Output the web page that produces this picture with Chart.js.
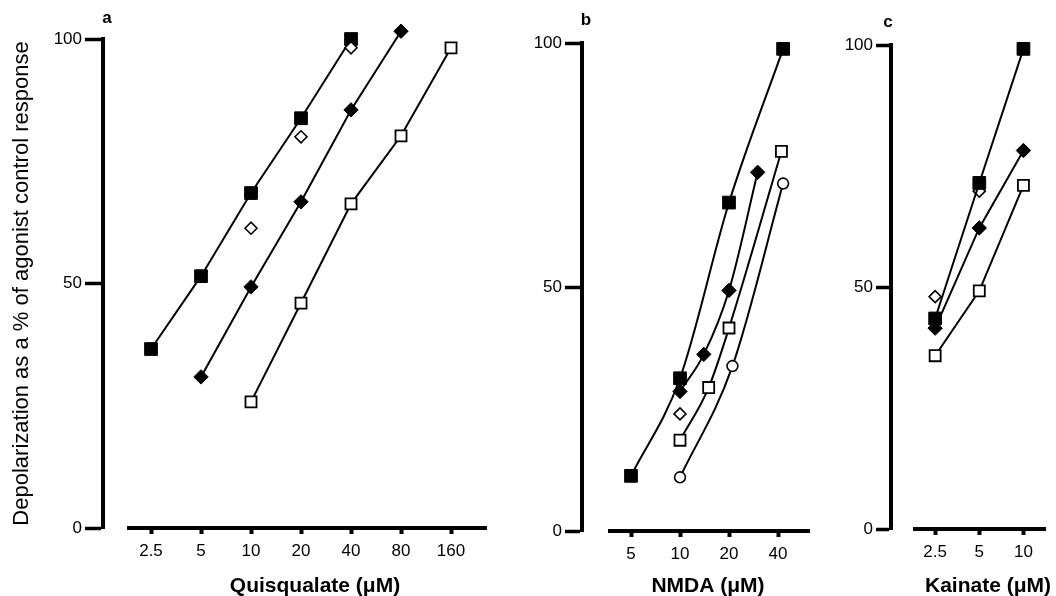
<!DOCTYPE html>
<html>
<head>
<meta charset="utf-8">
<script src="https://cdn.jsdelivr.net/npm/chart.js@4.4.0/dist/chart.umd.min.js"></script>
<style>
  html, body { margin: 0; padding: 0; background: #fff; }
  #wrap { position: relative; width: 1056px; height: 596px; }
  #wrap canvas { position: absolute; left: 0; top: 0; }
</style>
</head>
<body>
<div id="wrap">
  <canvas id="chartA" width="1056" height="596"></canvas>
  <canvas id="chartB" width="1056" height="596"></canvas>
  <canvas id="chartC" width="1056" height="596"></canvas>
</div>
<script>
// panel a - quisqualate (uM)
const quisTicks = [2.5, 5, 10, 20, 40, 80, 160];
const aFilledSquareX = [2.5, 5, 10, 20, 40];
const aFilledSquareY = [36.6, 51.5, 68.5, 83.8, 100];
const aOpenDiamondX = [10, 20, 40];
const aOpenDiamondY = [61.3, 80, 98.2];
const aFilledDiamondX = [5, 10, 20, 40, 80];
const aFilledDiamondY = [30.9, 49.3, 66.7, 85.5, 101.6];
const aOpenSquareX = [10, 20, 40, 80, 160];
const aOpenSquareY = [25.8, 46, 66.3, 80.2, 98.2];

// panel b - NMDA (uM)
const nmdaTicks = [5, 10, 20, 40];
const bFilledSquareX = [5, 10, 20, 43];
const bFilledSquareY = [11.3, 31.3, 67.3, 98.8];
const bOpenDiamondX = [10];
const bOpenDiamondY = [24];
const bFilledDiamondX = [10, 14, 20, 30];
const bFilledDiamondY = [28.6, 36.2, 49.3, 73.5];
const bOpenSquareX = [10, 15, 20, 42];
const bOpenSquareY = [18.6, 29.4, 41.6, 77.8];
const bOpenCircleX = [10, 21, 43];
const bOpenCircleY = [11, 33.8, 71.2];

// panel c - kainate (uM)
const kainTicks = [2.5, 5, 10];
const cFilledSquareX = [2.5, 5, 10];
const cFilledSquareY = [43.5, 71.5, 99.2];
const cOpenDiamondX = [2.5, 5];
const cOpenDiamondY = [48, 69.8];
const cFilledDiamondX = [2.5, 5, 10];
const cFilledDiamondY = [41.5, 62.2, 78.2];
const cOpenSquareX = [2.5, 5, 10];
const cOpenSquareY = [35.8, 49.2, 71];

Chart.defaults.font.family = '"Liberation Sans", Arial, Helvetica, sans-serif';
Chart.defaults.color = "#000";

const filledSquare = { pointStyle: "rect", pointRadius: 9, pointBackgroundColor: "#000", pointBorderWidth: 1 };
const openSquare = { pointStyle: "rect", pointRadius: 7.8, pointBackgroundColor: "#fff", pointBorderWidth: 1.8 };
const filledDiamond = { pointStyle: "rectRot", pointRadius: 7.2, pointBackgroundColor: "#000", pointBorderWidth: 1 };
const openDiamond = { pointStyle: "rectRot", pointRadius: 6, pointBackgroundColor: "#fff", pointBorderWidth: 1.6 };
const openCircle = { pointStyle: "circle", pointRadius: 5.4, pointBackgroundColor: "#fff", pointBorderWidth: 1.6 };

function series(xs, ys, marker, joined, curved) {
  return Object.assign({
    data: xs.map((x, i) => ({ x: x, y: ys[i] })),
    showLine: joined,
    borderColor: "#000",
    borderWidth: 2,
    pointBorderColor: "#000",
    cubicInterpolationMode: curved ? "monotone" : "default",
    tension: 0,
    clip: false,
  }, marker);
}

// draws the detached x baseline, axis title and panel letter
const panelDecor = {
  id: "panelDecor",
  afterDraw(chart, args, opts) {
    const ctx = chart.ctx;
    const area = chart.chartArea;
    ctx.save();
    ctx.strokeStyle = "#000";
    ctx.lineWidth = 4;
    ctx.beginPath();
    ctx.moveTo(area.left + opts.gap, area.bottom);
    ctx.lineTo(area.right, area.bottom);
    ctx.stroke();

    ctx.fillStyle = "#000";
    ctx.textAlign = "center";
    ctx.textBaseline = "middle";
    ctx.font = 'bold 21px "Liberation Sans", Arial, sans-serif';
    ctx.fillText(opts.title, opts.titleX, 586);
    ctx.font = 'bold 17px "Liberation Sans", Arial, sans-serif';
    ctx.fillText(opts.letter, opts.letterX, opts.letterY);
    ctx.restore();
  },
};

function drawPanel(id, p) {
  new Chart(document.getElementById(id), {
    type: "scatter",
    data: { datasets: p.datasets },
    options: {
      responsive: false,
      animation: false,
      events: [],
      layout: { padding: p.padding },
      plugins: {
        legend: { display: false },
        tooltip: { enabled: false },
        panelDecor: p.decor,
      },
      scales: {
        x: {
          type: "logarithmic",
          min: p.xMin,
          max: p.xMax,
          border: { display: false },
          grid: { drawOnChartArea: false, tickLength: 6, tickWidth: 4, color: "#000" },
          ticks: {
            autoSkip: false,
            maxRotation: 0,
            padding: 7,
            font: { size: 17 },
            callback: (v) => String(v),
          },
          afterBuildTicks: (s) => { s.ticks = p.ticks.map((v) => ({ value: v })); },
          afterFit: (s) => { s.height = p.xHeight; },
        },
        y: {
          min: 0,
          max: 100,
          border: { color: "#000", width: 4 },
          grid: { drawOnChartArea: false, tickLength: p.yTick, tickWidth: 3.5, color: "#000" },
          ticks: { stepSize: 50, padding: 3, font: { size: 17 } },
          title: p.yTitle || { display: false },
          afterFit: (s) => { s.width = p.yWidth; },
        },
      },
    },
    plugins: [panelDecor],
  });
}

drawPanel("chartA", {
  ticks: quisTicks,
  xMin: 1.285, xMax: 263.5,
  padding: { left: 0, right: 569, top: 39, bottom: 0 },
  yWidth: 103, xHeight: 68, yTick: 18,
  yTitle: {
    display: true,
    text: "Depolarization as a % of agonist control response",
    font: { size: 22 },
    padding: { top: 9, bottom: 0 },
  },
  decor: { gap: 24, title: "Quisqualate (μM)", titleX: 315, letter: "a", letterX: 107, letterY: 18 },
  datasets: [
    series(aOpenDiamondX, aOpenDiamondY, openDiamond, false),
    series(aFilledSquareX, aFilledSquareY, filledSquare, true),
    series(aFilledDiamondX, aFilledDiamondY, filledDiamond, true),
    series(aOpenSquareX, aOpenSquareY, openSquare, true),
  ],
});

drawPanel("chartB", {
  ticks: nmdaTicks,
  xMin: 2.5, xMax: 62.9,
  padding: { left: 522, right: 246, top: 43, bottom: 0 },
  yWidth: 60, xHeight: 65, yTick: 17,
  decor: { gap: 26, title: "NMDA (μM)", titleX: 708, letter: "b", letterX: 586, letterY: 20 },
  datasets: [
    series(bOpenDiamondX, bOpenDiamondY, openDiamond, false),
    series(bFilledSquareX, bFilledSquareY, filledSquare, true, true),
    series(bFilledDiamondX, bFilledDiamondY, filledDiamond, true, true),
    series(bOpenSquareX, bOpenSquareY, openSquare, true, true),
    series(bOpenCircleX, bOpenCircleY, openCircle, true, true),
  ],
});

drawPanel("chartC", {
  ticks: kainTicks,
  xMin: 1.25, xMax: 14.25,
  padding: { left: 831, right: 0, top: 45, bottom: 0 },
  yWidth: 60, xHeight: 67, yTick: 15,
  decor: { gap: 22, title: "Kainate (μM)", titleX: 988, letter: "c", letterX: 888, letterY: 22 },
  datasets: [
    series(cFilledSquareX, cFilledSquareY, filledSquare, true),
    series(cOpenDiamondX, cOpenDiamondY, openDiamond, false),
    series(cFilledDiamondX, cFilledDiamondY, filledDiamond, true),
    series(cOpenSquareX, cOpenSquareY, openSquare, true),
  ],
});
</script>
</body>
</html>
